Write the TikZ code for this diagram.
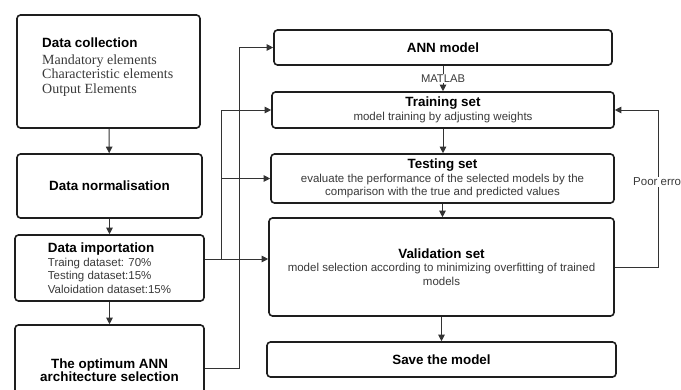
\documentclass[tikz,border=0pt]{standalone}
\usepackage{fontspec}
\setmainfont{Liberation Sans}
\newfontfamily\itemserif{Liberation Serif}
\newfontfamily\headsans{Liberation Sans}
\usetikzlibrary{arrows.meta}
\definecolor{boxline}{HTML}{1E1E1E}
\definecolor{wirecol}{HTML}{333333}
\definecolor{bodytxt}{HTML}{3A3A3A}
\newcommand\hd[1]{{\headsans\fontsize{13.4}{15}\selectfont\bfseries\color{black}#1}}
\begin{document}
\begin{tikzpicture}[x=1pt,y=-1pt,
  box/.style={draw=boxline, line width=1.6pt, rounded corners=3.5pt, fill=white,
    inner sep=0pt, align=center, text=bodytxt, font=\fontsize{11.5}{13.5}\selectfont},
  wire/.style={draw=wirecol, line width=1pt},
  arr/.style={wire, -{Triangle[length=6.5pt,width=6.5pt]}},
  lbl/.style={fill=white, inner sep=1pt, text=bodytxt, font=\fontsize{11.2}{13}\selectfont},
]
\useasboundingbox (0,0) rectangle (681,389);

% left column
\node[box, minimum width=183pt, minimum height=113pt] (dc) at (108.5,71.5) {};
\node[anchor=north west, inner sep=0pt, align=left, text=bodytxt,
  font=\fontsize{14}{14.7}\itemserif] (dctext) at (42,37.5)
  {\hd{Data collection}\\[2pt]
   Mandatory elements\\ Characteristic elements\\ Output Elements};
\node[box, minimum width=185pt, minimum height=64pt] (dn) at (109.5,186) {\hd{Data normalisation}};
\node[box, minimum width=189pt, minimum height=66pt, align=left] (di) at (109.5,268)
  {\hd{Data importation}\\ Traing dataset: 70\%\\ Testing dataset:15\%\\ Valoidation dataset:15\%};
\node[box, minimum width=189pt, minimum height=90pt] (opt) at (109.5,370)
  {\hd{The optimum ANN}\\ \hd{architecture selection}};

% right column
\node[box, minimum width=338pt, minimum height=35pt] (ann) at (443,47.5) {\hd{ANN model}};
\node[box, minimum width=342pt, minimum height=36pt] (tr) at (443,110)
  {\hd{Training set}\\ model training by adjusting weights};
\node[box, minimum width=343pt, minimum height=49pt] (te) at (442.5,178.5)
  {\hd{Testing set}\\ evaluate the performance of the selected models by the\\ comparison with the true and predicted values};
\node[box, minimum width=345pt, minimum height=98pt] (va) at (441.5,267)
  {\hd{Validation set}\\ model selection according to minimizing overfitting of trained\\ models};
\node[box, minimum width=349pt, minimum height=35pt] (sv) at (441.5,359.5) {\hd{Save the model}};

% buses
\coordinate (busA) at (221,0);
\coordinate (busB) at (239,0);
\coordinate (loopx) at (658,0);
\coordinate (diout) at ([yshift=9pt]di.east);
\coordinate (optout) at ([yshift=2pt]opt.east);

% left column arrows
\draw[arr] (dc) -- (dn);
\draw[arr] (dn) -- (di);
\draw[arr] (di) -- (opt);

% data importation feeds the three sets
\draw[arr] (diout) -- (diout -| va.west);
\draw[arr] (diout -| busA) |- (tr.west);
\draw[arr] (diout -| busA) |- (te.west);

% architecture selection feeds the ANN model
\draw[arr] (optout) -- (optout -| busB) |- (ann.west);

% right column chain
\draw[arr] (ann) -- node[lbl] (matlab) {MATLAB} (tr);
\draw[arr] (tr) -- (tr.south |- te.north);
\draw[arr] (te.south) -- (te.south |- va.north);
\draw[arr] (va.south) -- (va.south |- sv.north);

% feedback loop
\draw[arr] (va.east) -- (va.east -| loopx) |- (tr.east);
\node[lbl, anchor=west, font=\fontsize{11.5}{13.5}\selectfont] (poor) at (632,182) {Poor error};
\end{tikzpicture}
\end{document}
